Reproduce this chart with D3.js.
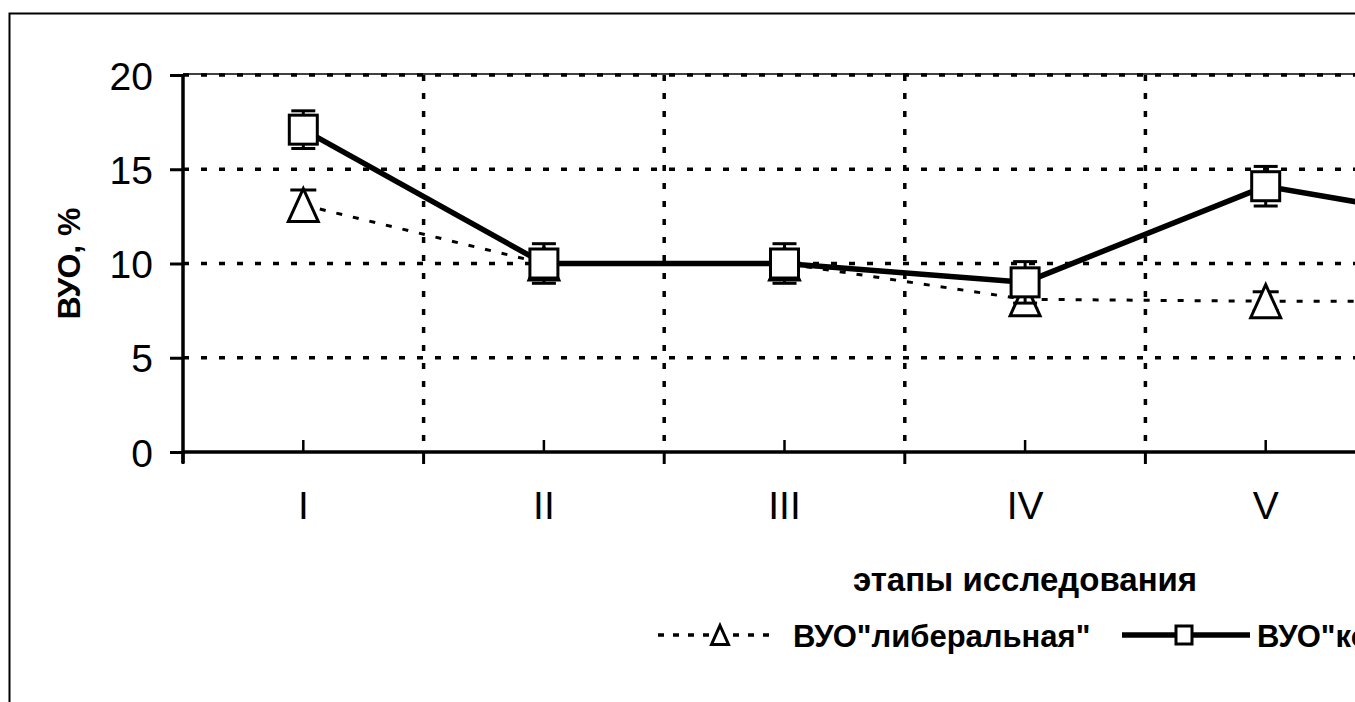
<!DOCTYPE html>
<html>
<head>
<meta charset="utf-8">
<script src="https://cdn.jsdelivr.net/npm/d3@7"></script>
<style>
  html, body { margin: 0; padding: 0; background: #fff; }
  svg { display: block; }
  text { font-family: "Liberation Sans", Arial, sans-serif; fill: #000; }
</style>
</head>
<body>
<svg id="chart" width="1355" height="702"></svg>
<script>
const categories = ["I", "II", "III", "IV", "V", "VI"];
const liberal = [13.1, 10.0, 10.0, 8.1, 8.0, 8.0];
const liberalErr = [0.8, 0.6, 0.6, 0.5, 0.5, 0.5];
const conservative = [17.1, 10.0, 10.0, 9.0, 14.1, 11.9];
const conservativeErr = [1.0, 1.05, 1.05, 1.1, 1.05, 1.0];
const yTicks = [0, 5, 10, 15, 20];
const seriesNames = ["ВУО\"либеральная\"", "ВУО\"консервативная\""];
const yTitle = "ВУО, %";
const xTitle = "этапы исследования";

const W = 1355, H = 702;
const svg = d3.select("#chart");
svg.append("rect").attr("width", W).attr("height", H).attr("fill", "#fff");

// outer frame
svg.append("rect").attr("x", 9.5).attr("y", 13.5).attr("width", 3000).attr("height", 3000)
  .attr("fill", "none").attr("stroke", "#000").attr("stroke-width", 2);

const x0 = 183, bandW = 240.6;
const x = d3.scaleBand().domain(categories).range([x0, x0 + bandW * categories.length]).padding(0);
const y = d3.scaleLinear().domain([0, 20]).range([452, 75]);
const cx = c => x(c) + x.bandwidth() / 2;
const right = 1400;

const grid = svg.append("g");
grid.selectAll("line.h").data(yTicks.filter(t => t > 0)).join("line")
  .attr("x1", x0).attr("x2", right).attr("y1", d => y(d)).attr("y2", d => y(d))
  .attr("stroke", "#000").attr("stroke-width", 3.5).attr("stroke-dasharray", "6,12");
grid.append("line").attr("x1", x0).attr("x2", right).attr("y1", y(20) - 1).attr("y2", y(20) - 1)
  .attr("stroke", "#000").attr("stroke-width", 1.5);
const bounds = categories.slice(1).map(c => x(c));
grid.selectAll("line.v").data(bounds).join("line")
  .attr("x1", d => d).attr("x2", d => d).attr("y1", y(20)).attr("y2", y(0))
  .attr("stroke", "#000").attr("stroke-width", 3.5).attr("stroke-dasharray", "6,12");

// Y axis
const yAxis = d3.axisLeft(y).tickValues(yTicks).tickSize(13).tickPadding(17).tickFormat(d3.format("d"));
const gy = svg.append("g").attr("transform", `translate(${x0},0)`).call(yAxis);
gy.select(".domain").attr("stroke-width", 3.5).attr("d", `M0,${y(20)}V${y(0) + 11}`);
gy.selectAll(".tick line").attr("stroke-width", 3);
gy.selectAll(".tick text").attr("font-size", 39).attr("dy", "0.36em");

// X axis
const gx = svg.append("g").attr("transform", `translate(0,${y(0)})`);
gx.append("line").attr("x1", x0).attr("x2", right).attr("stroke", "#000").attr("stroke-width", 3.5);
gx.selectAll("line.bt").data([x0, ...bounds]).join("line")
  .attr("x1", d => d).attr("x2", d => d).attr("y1", 0).attr("y2", 12)
  .attr("stroke", "#000").attr("stroke-width", 3);
gx.selectAll("line.ct").data(categories).join("line")
  .attr("x1", d => cx(d)).attr("x2", d => cx(d)).attr("y1", 0).attr("y2", -12)
  .attr("stroke", "#000").attr("stroke-width", 2.5);
gx.selectAll("text").data(categories.filter(c => cx(c) < W)).join("text")
  .attr("x", d => cx(d)).attr("y", 67).attr("text-anchor", "middle")
  .attr("font-size", 39).text(d => d);

// Axis titles
svg.append("text").attr("transform", `translate(80,${y(10)}) rotate(-90)`)
  .attr("text-anchor", "middle").attr("font-size", 32).attr("font-weight", "bold").text(yTitle);
svg.append("text").attr("x", 1025).attr("y", 591).attr("text-anchor", "middle")
  .attr("font-size", 33).attr("font-weight", "bold").text(xTitle);

const triPath = (w, h) => `M0,${-h / 2}L${w / 2},${h / 2}L${-w / 2},${h / 2}Z`;

function errorBars(g, vals, errs, capW) {
  const d = categories.map((c, i) => ({ c, v: vals[i], e: errs[i] }));
  const eg = g.append("g").attr("stroke", "#000").attr("stroke-width", 3);
  eg.selectAll("line.s").data(d).join("line")
    .attr("x1", p => cx(p.c)).attr("x2", p => cx(p.c))
    .attr("y1", p => y(p.v + p.e)).attr("y2", p => y(p.v - p.e));
  eg.selectAll("line.t").data(d).join("line")
    .attr("x1", p => cx(p.c) - capW / 2).attr("x2", p => cx(p.c) + capW / 2)
    .attr("y1", p => y(p.v + p.e)).attr("y2", p => y(p.v + p.e));
  eg.selectAll("line.b").data(d).join("line")
    .attr("x1", p => cx(p.c) - capW / 2).attr("x2", p => cx(p.c) + capW / 2)
    .attr("y1", p => y(p.v - p.e)).attr("y2", p => y(p.v - p.e));
}

const line = d3.line().x(d => cx(d.c)).y(d => y(d.v));

// Liberal series
const gL = svg.append("g");
const libData = categories.map((c, i) => ({ c, v: liberal[i] }));
gL.append("path").datum(libData).attr("d", line).attr("fill", "none")
  .attr("stroke", "#000").attr("stroke-width", 3).attr("stroke-dasharray", "6,11");
errorBars(gL, liberal, liberalErr, 26);
gL.selectAll("path.m").data(libData).join("path").attr("class", "m")
  .attr("transform", d => `translate(${cx(d.c)},${y(d.v)})`)
  .attr("d", triPath(30, 33)).attr("fill", "#fff").attr("stroke", "#000").attr("stroke-width", 3);

// Conservative series
const gC = svg.append("g");
const conData = categories.map((c, i) => ({ c, v: conservative[i] }));
gC.append("path").datum(conData).attr("d", line).attr("fill", "none")
  .attr("stroke", "#000").attr("stroke-width", 5.5);
errorBars(gC, conservative, conservativeErr, 24);
gC.selectAll("rect.m").data(conData).join("rect").attr("class", "m")
  .attr("x", d => cx(d.c) - 14).attr("y", d => y(d.v) - 14.5)
  .attr("width", 28).attr("height", 29)
  .attr("fill", "#fff").attr("stroke", "#000").attr("stroke-width", 3);

// Legend
const lg = svg.append("g").attr("transform", "translate(0,635)");
lg.append("line").attr("x1", 658).attr("x2", 778).attr("y1", 0).attr("y2", 0)
  .attr("stroke", "#000").attr("stroke-width", 3.5).attr("stroke-dasharray", "6,9");
lg.append("path").attr("transform", "translate(720,0)").attr("d", triPath(17, 19))
  .attr("fill", "#fff").attr("stroke", "#000").attr("stroke-width", 3);
lg.append("text").attr("x", 793).attr("y", 11.5).attr("font-size", 31).attr("font-weight", "bold")
  .text(seriesNames[0]);
lg.append("line").attr("x1", 1122).attr("x2", 1250).attr("y1", 0).attr("y2", 0)
  .attr("stroke", "#000").attr("stroke-width", 5.5);
lg.append("rect").attr("x", 1176).attr("y", -9).attr("width", 16).attr("height", 18)
  .attr("fill", "#fff").attr("stroke", "#000").attr("stroke-width", 3);
lg.append("text").attr("x", 1257).attr("y", 11.5).attr("font-size", 31).attr("font-weight", "bold")
  .text(seriesNames[1]);
</script>
</body>
</html>
